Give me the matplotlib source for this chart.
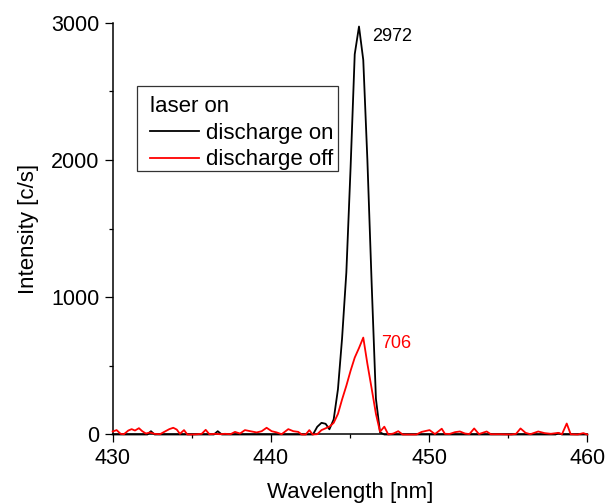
import matplotlib
matplotlib.use("Agg")
import matplotlib.pyplot as plt
from matplotlib.ticker import MultipleLocator
from matplotlib.patches import Rectangle

plt.rcParams['font.family'] = ['Liberation Sans', 'DejaVu Sans']

# discharge on (black)
wl_on = [430.0, 432.2, 432.42, 432.65, 436.4, 436.64, 436.9, 442.66, 442.93, 443.20,
         443.46, 443.70, 443.97, 444.24, 444.50, 444.77, 445.04, 445.30, 445.57, 445.84,
         446.10, 446.37, 446.64, 446.90, 447.17, 458.0, 458.17, 458.4, 460.0]
int_on = [0, 0, 24, 0, 0, 24, 0, 0, 56, 85,
          78, 38, 110, 330, 700, 1180, 1950, 2770, 2972, 2728,
          2000, 1100, 260, 15, 0, 0, 10, 0, 0]

# discharge off (red)
wl_off = [430.0, 430.25, 430.5, 430.71, 430.99, 431.2, 431.41, 431.66, 431.87, 432.1,
          432.36, 432.63, 432.99, 433.26, 433.58, 433.83, 434.05, 434.25, 434.51, 434.72,
          434.99, 435.35, 435.63, 435.88, 436.11, 436.47, 436.78, 437.1, 437.45, 437.73,
          438.05, 438.36, 438.7, 439.1, 439.42, 439.73, 440.05, 440.37, 440.68, 441.1,
          441.42, 441.73, 441.95, 442.2, 442.43, 442.64, 442.93, 443.20, 443.46, 443.73,
          443.97, 444.24, 444.50, 444.77, 445.04, 445.30, 445.57, 445.84, 446.10, 446.37,
          446.64, 446.90, 447.17, 447.42, 447.74, 448.05, 448.33, 449.2, 449.53, 450.03,
          450.37, 450.8, 451.0, 451.3, 451.64, 451.95, 452.27, 452.55, 452.85, 453.15,
          453.64, 453.9, 454.5, 455.2, 455.5, 455.78, 456.1, 456.4, 456.9, 457.3,
          457.7, 458.17, 458.4, 458.7, 458.95, 459.4, 459.75, 460.0]
int_off = [22, 32, 5, 2, 29, 39, 29, 46, 24, 7,
           15, 5, 2, 19, 39, 49, 36, 5, 32, 0,
           0, 2, 5, 34, 2, 5, 2, 5, 2, 19,
           7, 32, 24, 15, 24, 49, 24, 15, 2, 39,
           24, 19, 0, 0, 32, 0, 2, 32, 45, 60,
           85, 150, 255, 355, 465, 560, 630, 706, 515, 335,
           150, 20, 57, 0, 7, 24, 0, 0, 19, 32,
           3, 42, 5, 4, 17, 22, 7, 3, 44, 3,
           22, 2, 2, 0, 5, 44, 12, 2, 22, 10,
           5, 12, 2, 80, 2, 0, 10, 0]

legend_title = "laser on"
labels = ["discharge on", "discharge off"]
x_ticks = [430, 440, 450, 460]
y_ticks = [0, 1000, 2000, 3000]

fig = plt.figure(figsize=(6.14, 5.03), dpi=100)
ax = fig.add_axes([0.1835, 0.1362, 0.7730, 0.8187])

ax.plot(wl_on, int_on, color='black', lw=1.3, label=labels[0], zorder=3, clip_on=False)
ax.plot(wl_off, int_off, color='#ff0000', lw=1.3, label=labels[1], zorder=4, clip_on=False)

ax.set_xlim(430, 460)
ax.set_ylim(0, 3000)
ax.set_xticks(x_ticks)
ax.set_yticks(y_ticks)
ax.xaxis.set_minor_locator(MultipleLocator(5))
ax.yaxis.set_minor_locator(MultipleLocator(500))

for s in ['top', 'right']:
    ax.spines[s].set_visible(False)
for s in ['left', 'bottom']:
    ax.spines[s].set_linewidth(1.1)

ax.tick_params(which='major', direction='out', length=5.5, width=0.9, labelsize=15.5, pad=4)
ax.tick_params(which='minor', direction='out', length=3, width=0.9)

ax.set_xlabel("Wavelength [nm]", fontsize=16, labelpad=9.5)
ax.set_ylabel("Intensity [c/s]", fontsize=16, labelpad=9)

ax.text(446.37, 2897, "2972", fontsize=13, color='black', ha='left', va='center')
ax.text(447.0, 664, "706", fontsize=13, color='#ff0000', ha='left', va='center')

# legend frame box (drawn separately for asymmetric padding)
ax.add_patch(Rectangle((0.0518, 0.6406), 0.4235, 0.2057, transform=ax.transAxes,
                       fill=False, edgecolor='#333333', linewidth=0.9, zorder=5))

leg = ax.legend(title=legend_title, loc='upper left', bbox_to_anchor=(0.0535, 0.851),
                borderaxespad=0, fontsize=16, title_fontsize=16, alignment='left',
                frameon=False, handlelength=2.2, handletextpad=0.3,
                borderpad=0.55, labelspacing=0.25)

fig.savefig("out.png", dpi=100)
